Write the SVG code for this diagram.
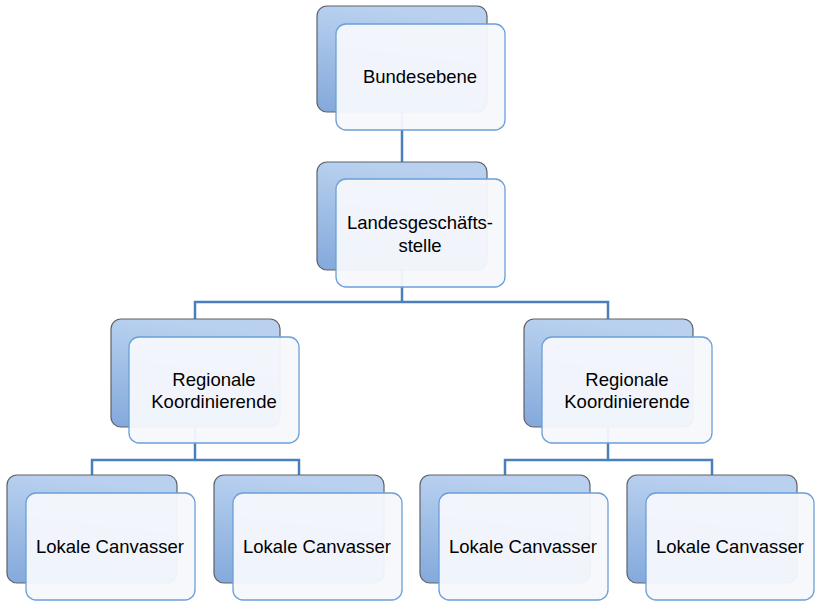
<svg xmlns="http://www.w3.org/2000/svg" width="815" height="602" viewBox="0 0 815 602">
  <defs>
    <linearGradient id="backFill" x1="0.2" y1="0" x2="0" y2="1">
      <stop offset="0" stop-color="#b9d1ef"/>
      <stop offset="1" stop-color="#83a9db"/>
    </linearGradient>
    <style>
      .back { fill: url(#backFill); stroke: #5f6268; stroke-width: 1.2; }
      .front { fill: #f5f8fc; fill-opacity: 0.95; stroke: #6a9fd8; stroke-width: 1.3; }
      .link { fill: none; stroke: #4a7fbd; stroke-width: 2.5; }
      .label { font-family: "Liberation Sans", Arial, sans-serif; font-size: 18.5px; fill: #000; text-anchor: middle; }
    </style>
  </defs>
  <rect width="815" height="602" fill="#ffffff"/>

  <!-- connectors -->
  <g id="connectors">
    <path class="link" d="M402 112 V162"/>
    <path class="link" d="M402 270 V302 M195 319 V302 H608 V319"/>
    <path class="link" d="M195 427 V460 M92 475 V460 H299 V475"/>
    <path class="link" d="M608 427 V460 M505 475 V460 H712 V475"/>
  </g>

  <g id="bundesebene">
    <rect class="back" x="317" y="6" width="170" height="106" rx="10"/>
    <rect class="front" x="336" y="24" width="169" height="106" rx="10"/>
    <text class="label" x="420" y="83">Bundesebene</text>
  </g>

  <g id="landesgeschaeftsstelle">
    <rect class="back" x="317" y="162" width="170" height="108" rx="10"/>
    <rect class="front" x="336" y="179" width="169" height="108" rx="10"/>
    <text class="label" x="420" y="229">Landesgeschäfts-</text>
    <text class="label" x="420" y="252">stelle</text>
  </g>

  <g id="regional-links">
    <rect class="back" x="111" y="319" width="169" height="108" rx="10"/>
    <rect class="front" x="129" y="337" width="170" height="106" rx="10"/>
    <text class="label" x="214" y="386">Regionale</text>
    <text class="label" x="214" y="408">Koordinierende</text>
  </g>

  <g id="regional-rechts">
    <rect class="back" x="524" y="319" width="169" height="108" rx="10"/>
    <rect class="front" x="542" y="337" width="170" height="106" rx="10"/>
    <text class="label" x="627" y="386">Regionale</text>
    <text class="label" x="627" y="408">Koordinierende</text>
  </g>

  <g id="lokal-1">
    <rect class="back" x="7" y="475" width="170" height="108" rx="10"/>
    <rect class="front" x="26" y="493" width="169" height="107" rx="10"/>
    <text class="label" x="110" y="553">Lokale Canvasser</text>
  </g>

  <g id="lokal-2">
    <rect class="back" x="214" y="475" width="170" height="108" rx="10"/>
    <rect class="front" x="233" y="493" width="169" height="107" rx="10"/>
    <text class="label" x="317" y="553">Lokale Canvasser</text>
  </g>

  <g id="lokal-3">
    <rect class="back" x="420" y="475" width="170" height="108" rx="10"/>
    <rect class="front" x="439" y="493" width="169" height="107" rx="10"/>
    <text class="label" x="523" y="553">Lokale Canvasser</text>
  </g>

  <g id="lokal-4">
    <rect class="back" x="627" y="475" width="170" height="108" rx="10"/>
    <rect class="front" x="646" y="493" width="168" height="107" rx="10"/>
    <text class="label" x="730" y="553">Lokale Canvasser</text>
  </g>
</svg>
